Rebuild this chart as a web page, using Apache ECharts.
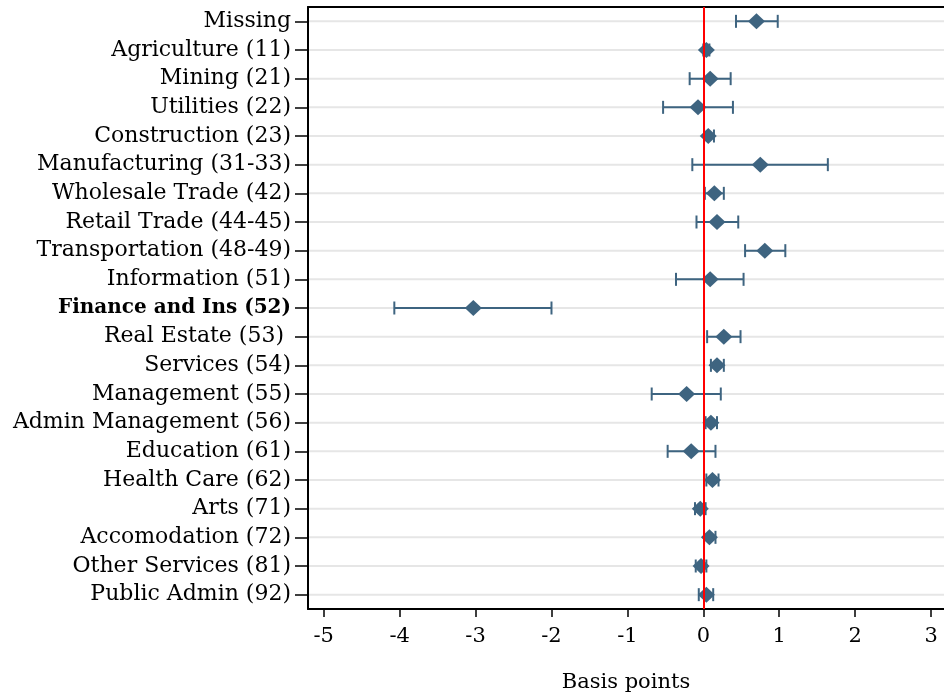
<!DOCTYPE html>
<html><head><meta charset="utf-8">
<script src="https://cdn.jsdelivr.net/npm/echarts@6/dist/echarts.min.js"></script>
<style>html,body{margin:0;padding:0;background:#fff;overflow:hidden}#c{width:944px;height:698px}</style>
</head><body><div id="c"></div>
<script>
const categories = ["Missing","Agriculture (11)","Mining (21)","Utilities (22)","Construction (23)","Manufacturing (31-33)","Wholesale Trade (42)","Retail Trade (44-45)","Transportation (48-49)","Information (51)","Finance and Ins (52)","Real Estate (53) ","Services (54)","Management (55)","Admin Management (56)","Education (61)","Health Care (62)","Arts (71)","Accomodation (72)","Other Services (81)","Public Admin (92)"];
const estimates = [0.70,0.04,0.09,-0.07,0.065,0.75,0.145,0.18,0.81,0.09,-3.03,0.27,0.18,-0.22,0.10,-0.16,0.12,-0.04,0.08,-0.03,0.04];
const lower =     [0.43,0.00,-0.18,-0.53,0.01,-0.145,0.02,-0.09,0.55,-0.36,-4.07,0.05,0.10,-0.68,0.03,-0.47,0.04,-0.11,0.01,-0.10,-0.06];
const upper =     [0.98,0.08,0.36,0.39,0.14,1.64,0.27,0.46,1.08,0.53,-2.00,0.49,0.27,0.23,0.18,0.16,0.20,0.03,0.16,0.04,0.13];
const xTicks = [-5,-4,-3,-2,-1,0,1,2,3];
const boldCategory = "Finance and Ins (52)";

const navy = '#3e6480';
const font = 'DejaVu Serif';
const ink = '#000';

const chart = echarts.init(document.getElementById('c'), null, {renderer:'canvas'});
const ciData = categories.map((c,i)=>[lower[i], upper[i], i]);
const ptData = categories.map((c,i)=>[estimates[i], i]);

chart.setOption({
  animation:false,
  grid:{left:308, right:-4, top:7, bottom:88, containLabel:false},
  xAxis:[{
    type:'value', min:-5.207, max:3.17, position:'bottom',
    axisLine:{show:true, onZero:false, lineStyle:{color:ink, width:2}},
    axisTick:{show:true, length:8, customValues:xTicks, lineStyle:{color:ink, width:1.5}},
    axisLabel:{customValues:xTicks, color:ink, fontFamily:font, fontSize:21, margin:17},
    splitLine:{show:false},
    name:'Basis points', nameLocation:'middle', nameGap:63,
    nameTextStyle:{color:ink, fontFamily:font, fontSize:21}
  },{
    type:'value', min:-5.207, max:3.17, position:'top',
    axisLine:{show:true, onZero:false, lineStyle:{color:ink, width:2}},
    axisTick:{show:false}, axisLabel:{show:false}, splitLine:{show:false}
  }],
  yAxis:{
    type:'category', data:categories, inverse:true, boundaryGap:true,
    axisLine:{show:true, onZero:false, lineStyle:{color:ink, width:2}},
    axisTick:{show:true, alignWithLabel:true, length:13, lineStyle:{color:ink, width:1.5}},
    axisLabel:{color:ink, fontFamily:font, fontSize:22, margin:17,
      formatter:(v)=> v===boldCategory ? '{b|'+v+'}' : v,
      rich:{b:{fontWeight:'bold', fontFamily:font, fontSize:20, color:ink}}},
    splitLine:{show:false}
  },
  series:[{
    type:'custom', z:2,
    data:ciData,
    renderItem:(params, api)=>{
      const cs = params.coordSys;
      const idx = api.value(2);
      const p1 = api.coord([api.value(0), idx]);
      const p2 = api.coord([api.value(1), idx]);
      const y = p1[1];
      const cap = 6.5;
      return {type:'group', children:[
        {type:'line', z2:0, shape:{x1:cs.x+1, y1:y, x2:cs.x+cs.width, y2:y}, style:{stroke:'#e6e6e6', lineWidth:2}},
        {type:'line', z2:2, shape:{x1:p1[0], y1:y, x2:p2[0], y2:y}, style:{stroke:navy, lineWidth:2}},
        {type:'line', z2:2, shape:{x1:p1[0], y1:y-cap, x2:p1[0], y2:y+cap}, style:{stroke:navy, lineWidth:2}},
        {type:'line', z2:2, shape:{x1:p2[0], y1:y-cap, x2:p2[0], y2:y+cap}, style:{stroke:navy, lineWidth:2}}
      ]};
    }
  },{
    type:'line', z:3, data:[],
    markLine:{silent:true, symbol:['none','none'], label:{show:false},
      lineStyle:{color:'#ff0000', width:2, type:'solid'}, data:[{xAxis:0}]}
  },{
    type:'scatter', z:4, data:ptData,
    symbol:'diamond', symbolSize:[17,16],
    itemStyle:{color:navy, opacity:1}
  }]
});
</script></body></html>
